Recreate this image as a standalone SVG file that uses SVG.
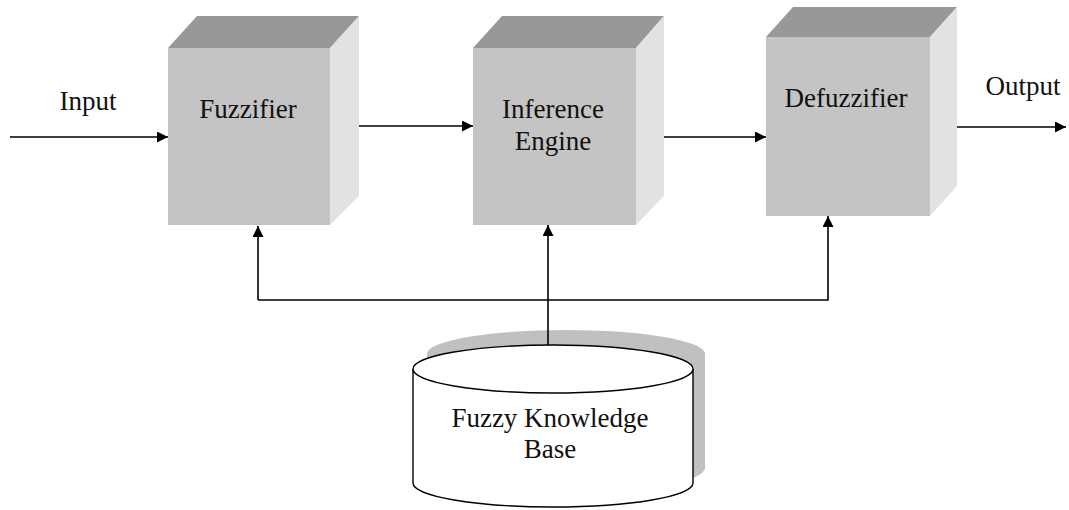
<svg xmlns="http://www.w3.org/2000/svg" width="1069" height="510" viewBox="0 0 1069 510">
<style>
.front{fill:#c4c4c4}
.top{fill:#989898}
.side{fill:#e2e2e2}
.lbl{font-family:"Liberation Serif","Times New Roman",serif;font-size:27px;fill:#111;text-anchor:middle}
.ln{stroke:#000;stroke-width:1.6;fill:none}
</style>
<defs>
<marker id="ah" viewBox="0 0 10 10" refX="10" refY="5" markerWidth="11" markerHeight="11" markerUnits="userSpaceOnUse" orient="auto">
<path d="M0,0 L10,5 L0,10 z" fill="#000"/>
</marker>
</defs>
<rect width="1069" height="510" fill="#fff"/>
<g id="fuzzifier">
<polygon class="top" points="168,48 197,16 359,16 330,48"/>
<polygon class="side" points="330,48 359,16 359,196 330,225"/>
<rect class="front" x="168" y="48" width="162" height="177"/>
<text class="lbl" x="248" y="118">Fuzzifier</text>
</g>
<g id="inference">
<polygon class="top" points="473,48 502,16 664,16 636,48"/>
<polygon class="side" points="636,48 664,16 664,196 636,225"/>
<rect class="front" x="473" y="48" width="163" height="177"/>
<text class="lbl" x="553" y="118">Inference</text>
<text class="lbl" x="553" y="150">Engine</text>
</g>
<g id="defuzzifier">
<polygon class="top" points="766,37 793,7 957,7 930,37"/>
<polygon class="side" points="930,37 957,7 957,186 930,216"/>
<rect class="front" x="766" y="37" width="164" height="179"/>
<text class="lbl" x="846" y="107">Defuzzifier</text>
</g>
<g id="knowledge-base">
<path d="M427,354 A139,24 0 0 1 705,354 L705,468 A139,24 0 0 1 427,468 Z" fill="#c0c0c0"/>
<path d="M413,369 L413,483 A140,24 0 0 0 693,483 L693,369" fill="#fff" stroke="#000" stroke-width="1.4"/>
<ellipse cx="553" cy="369" rx="140" ry="24" fill="#fff" stroke="#000" stroke-width="1.4"/>
<text class="lbl" x="550" y="427">Fuzzy Knowledge</text>
<text class="lbl" x="550" y="458">Base</text>
</g>
<g id="labels">
<text class="lbl" x="88" y="110">Input</text>
<text class="lbl" x="1023" y="95">Output</text>
</g>
<g id="connectors">
<line class="ln" x1="10" y1="137" x2="168" y2="137" marker-end="url(#ah)"/>
<line class="ln" x1="359" y1="126" x2="473" y2="126" marker-end="url(#ah)"/>
<line class="ln" x1="664" y1="137" x2="766" y2="137" marker-end="url(#ah)"/>
<line class="ln" x1="957" y1="127" x2="1066" y2="127" marker-end="url(#ah)"/>
<polyline class="ln" points="258,300 828,300 828,216" marker-end="url(#ah)"/>
<line class="ln" x1="258" y1="300" x2="258" y2="226" marker-end="url(#ah)"/>
<line class="ln" x1="548" y1="345" x2="548" y2="225" marker-end="url(#ah)"/>
</g>
</svg>
